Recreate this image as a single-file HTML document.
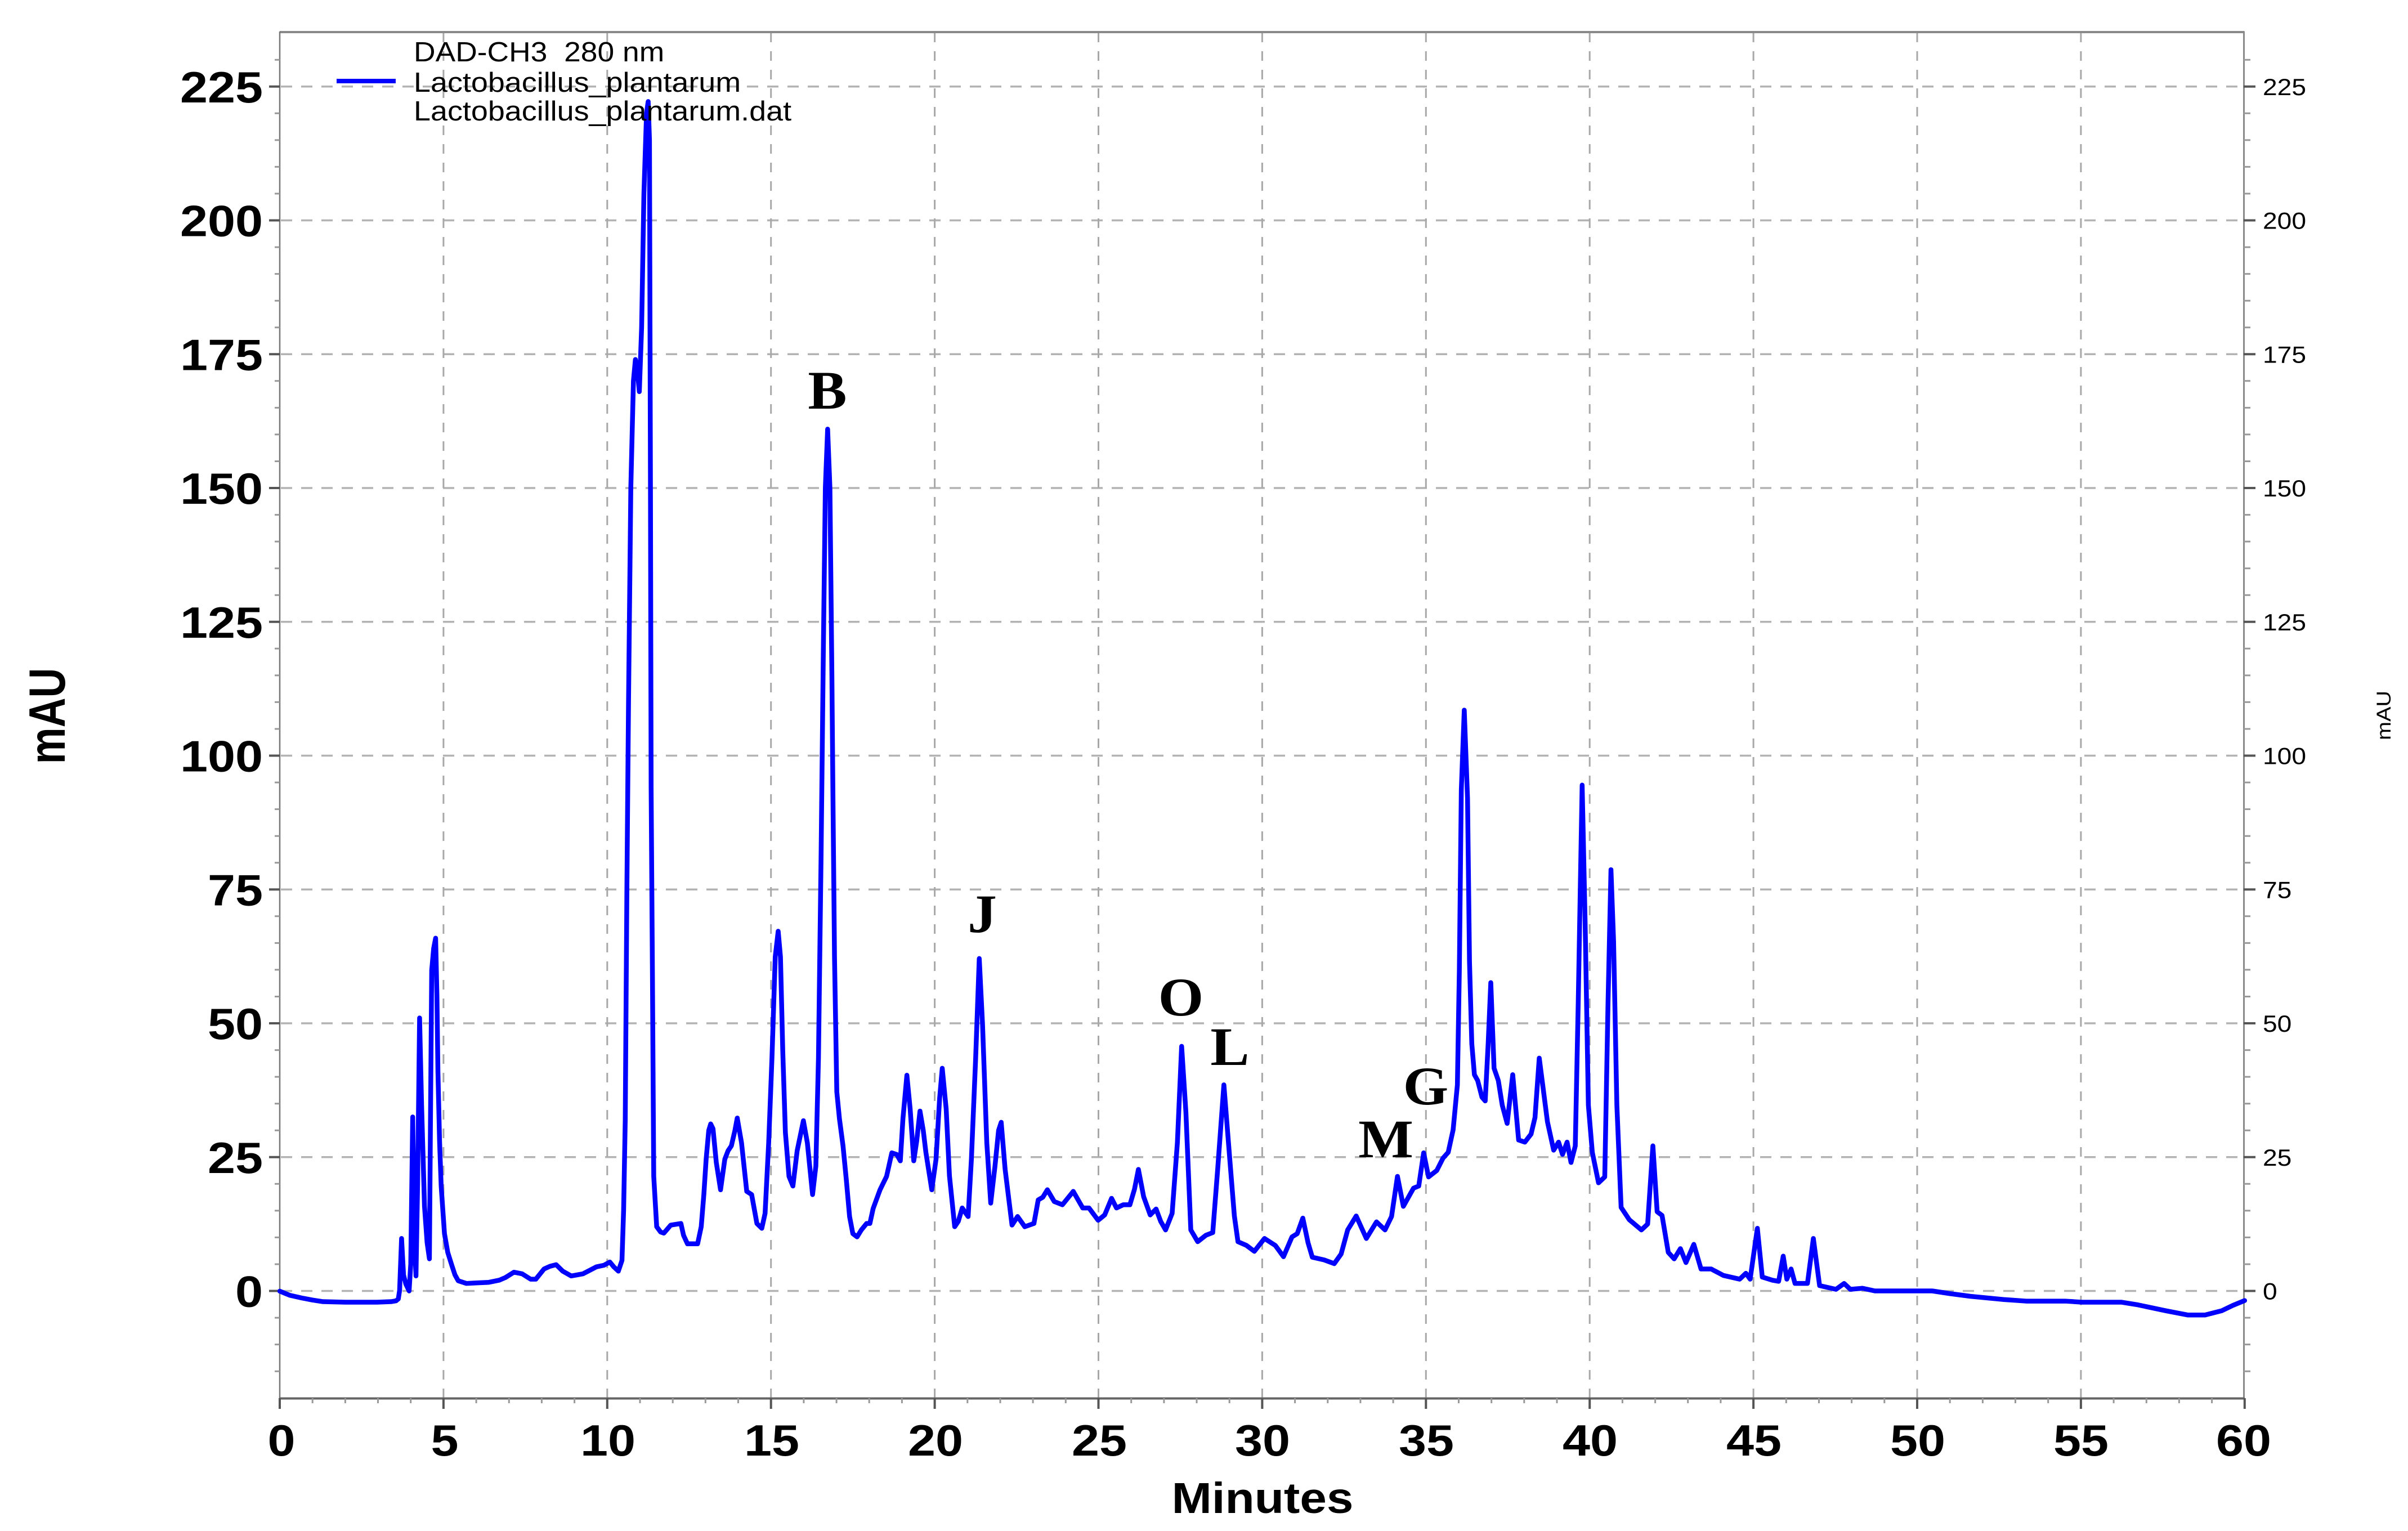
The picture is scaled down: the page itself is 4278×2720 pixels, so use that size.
<!DOCTYPE html>
<html>
<head>
<meta charset="utf-8">
<style>
html,body{margin:0;padding:0;background:#fff;}
svg{display:block;}
</style>
</head>
<body>
<svg xmlns="http://www.w3.org/2000/svg" width="4278" height="2720" viewBox="0 0 4278 2720">
<rect x="0" y="0" width="4278" height="2720" fill="#fff"/>

<!-- horizontal grid -->
<path d="M499,2293.5H3986 M499,2055.75H3986 M499,1818H3986 M499,1580.25H3986 M499,1342.5H3986 M499,1104.75H3986 M499,867H3986 M499,629.25H3986 M499,391.5H3986 M499,153.75H3986" stroke="#b3b3b3" stroke-width="3.5" stroke-dasharray="20 16" fill="none"/>
<!-- vertical grid -->
<path d="M787.9,58V2483 M1078.8,58V2483 M1369.7,58V2483 M1660.6,58V2483 M1951.5,58V2483 M2242.4,58V2483 M2533.3,58V2483 M2824.2,58V2483 M3115.1,58V2483 M3406,58V2483 M3696.9,58V2483" stroke="#a8a8a8" stroke-width="3" stroke-dasharray="17 16" fill="none"/>

<!-- frame -->
<path d="M497,57H3987.5" stroke="#8a8a8a" stroke-width="4" fill="none"/>
<path d="M497,56V2485" stroke="#777" stroke-width="2.5" fill="none"/>
<path d="M3986.5,56V2485" stroke="#8a8a8a" stroke-width="3" fill="none"/>
<path d="M496,2484.5H3988" stroke="#666" stroke-width="4" fill="none"/>

<!-- left axis ticks -->
<path d="M478,2293.5H497 M478,2055.75H497 M478,1818H497 M478,1580.25H497 M478,1342.5H497 M478,1104.75H497 M478,867H497 M478,629.25H497 M478,391.5H497 M478,153.75H497" stroke="#555" stroke-width="4" fill="none"/>
<path d="M488,106.2H497 M488,201.3H497 M488,248.9H497 M488,296.4H497 M488,344H497 M488,439.1H497 M488,486.6H497 M488,534.2H497 M488,581.7H497 M488,676.8H497 M488,724.4H497 M488,771.9H497 M488,819.5H497 M488,914.6H497 M488,962.1H497 M488,1009.7H497 M488,1057.2H497 M488,1152.3H497 M488,1199.9H497 M488,1247.4H497 M488,1295H497 M488,1390.1H497 M488,1437.6H497 M488,1485.2H497 M488,1532.7H497 M488,1627.8H497 M488,1675.4H497 M488,1722.9H497 M488,1770.5H497 M488,1865.6H497 M488,1913.1H497 M488,1960.7H497 M488,2008.2H497 M488,2103.3H497 M488,2150.9H497 M488,2198.4H497 M488,2246H497 M488,2341.1H497 M488,2388.6H497 M488,2436.2H497" stroke="#999" stroke-width="3" fill="none"/>

<!-- right axis ticks -->
<path d="M3986,2293.5H4007 M3986,2055.75H4007 M3986,1818H4007 M3986,1580.25H4007 M3986,1342.5H4007 M3986,1104.75H4007 M3986,867H4007 M3986,629.25H4007 M3986,391.5H4007 M3986,153.75H4007" stroke="#555" stroke-width="4" fill="none"/>
<path d="M3986,106.2H3998 M3986,201.3H3998 M3986,248.9H3998 M3986,296.4H3998 M3986,344H3998 M3986,439.1H3998 M3986,486.6H3998 M3986,534.2H3998 M3986,581.7H3998 M3986,676.8H3998 M3986,724.4H3998 M3986,771.9H3998 M3986,819.5H3998 M3986,914.6H3998 M3986,962.1H3998 M3986,1009.7H3998 M3986,1057.2H3998 M3986,1152.3H3998 M3986,1199.9H3998 M3986,1247.4H3998 M3986,1295H3998 M3986,1390.1H3998 M3986,1437.6H3998 M3986,1485.2H3998 M3986,1532.7H3998 M3986,1627.8H3998 M3986,1675.4H3998 M3986,1722.9H3998 M3986,1770.5H3998 M3986,1865.6H3998 M3986,1913.1H3998 M3986,1960.7H3998 M3986,2008.2H3998 M3986,2103.3H3998 M3986,2150.9H3998 M3986,2198.4H3998 M3986,2246H3998 M3986,2341.1H3998 M3986,2388.6H3998 M3986,2436.2H3998" stroke="#999" stroke-width="3" fill="none"/>

<!-- bottom axis ticks -->
<path d="M497,2484V2503 M787.9,2484V2503 M1078.8,2484V2503 M1369.7,2484V2503 M1660.6,2484V2503 M1951.5,2484V2503 M2242.4,2484V2503 M2533.3,2484V2503 M2824.2,2484V2503 M3115.1,2484V2503 M3406,2484V2503 M3696.9,2484V2503 M3987.8,2484V2503" stroke="#555" stroke-width="4" fill="none"/>
<path d="M555.2,2484V2493 M613.4,2484V2493 M671.5,2484V2493 M729.7,2484V2493 M846.1,2484V2493 M904.3,2484V2493 M962.4,2484V2493 M1020.6,2484V2493 M1137,2484V2493 M1195.2,2484V2493 M1253.3,2484V2493 M1311.5,2484V2493 M1427.9,2484V2493 M1486.1,2484V2493 M1544.2,2484V2493 M1602.4,2484V2493 M1718.8,2484V2493 M1777,2484V2493 M1835.1,2484V2493 M1893.3,2484V2493 M2009.7,2484V2493 M2067.9,2484V2493 M2126,2484V2493 M2184.2,2484V2493 M2300.6,2484V2493 M2358.8,2484V2493 M2416.9,2484V2493 M2475.1,2484V2493 M2591.5,2484V2493 M2649.7,2484V2493 M2707.8,2484V2493 M2766,2484V2493 M2882.4,2484V2493 M2940.6,2484V2493 M2998.7,2484V2493 M3056.9,2484V2493 M3173.3,2484V2493 M3231.5,2484V2493 M3289.6,2484V2493 M3347.8,2484V2493 M3464.2,2484V2493 M3522.4,2484V2493 M3580.5,2484V2493 M3638.7,2484V2493 M3755.1,2484V2493 M3813.3,2484V2493 M3871.4,2484V2493 M3929.6,2484V2493" stroke="#999" stroke-width="3" fill="none"/>

<!-- trace -->
<g transform="translate(497,2293.5) scale(58.18,-9.51)">
<polyline fill="none" stroke="#0000ff" stroke-width="8.5" stroke-linejoin="round" stroke-linecap="round" vector-effect="non-scaling-stroke" points="0,-0.04 0.3,-0.8 0.66,-1.3 1,-1.7 1.32,-2 2,-2.1 2.97,-2.1 3.4,-2 3.55,-1.85 3.62,-1.5 3.66,0.1 3.72,9.8 3.78,3 3.85,1.3 3.95,0 4,5 4.06,32.5 4.11,10 4.16,2.8 4.21,20 4.27,51 4.33,35 4.42,15.8 4.5,9 4.57,6 4.6,30 4.64,59.9 4.7,64 4.76,65.9 4.8,55 4.83,41 4.88,28 4.93,19.5 5.03,10.7 5.13,7.2 5.24,5.05 5.35,3 5.45,1.9 5.7,1.4 6,1.5 6.37,1.6 6.7,2 6.89,2.5 7.15,3.5 7.4,3.2 7.66,2.2 7.82,2.2 8.07,4.1 8.25,4.6 8.44,4.9 8.64,3.7 8.9,2.8 9.26,3.2 9.67,4.5 9.9,4.8 10.08,5.4 10.2,4.5 10.34,3.7 10.45,5.7 10.5,15 10.55,32 10.6,75 10.65,110 10.72,150 10.8,170 10.86,174 10.92,172 10.98,168 11.05,180 11.12,205 11.2,220 11.25,222.2 11.29,215 11.32,150 11.34,94 11.38,59.3 11.42,21.4 11.51,12 11.63,11 11.73,10.8 11.94,12.3 12.25,12.6 12.33,10.4 12.45,8.8 12.76,8.8 12.87,12 12.95,18 13.02,24.6 13.1,30 13.16,31.2 13.23,30.3 13.33,24 13.46,18.9 13.59,24.6 13.69,26.2 13.79,27.1 13.9,30 13.97,32.3 14.1,27.7 14.26,18.6 14.41,18 14.57,12.6 14.72,11.7 14.82,14.5 14.93,27.7 15.03,43.5 15.13,62.4 15.22,67.2 15.29,62.4 15.36,44.8 15.44,29.6 15.55,21.4 15.67,19.6 15.8,26.2 15.99,31.8 16.11,27.7 16.27,18 16.37,23.3 16.45,43.5 16.53,81.3 16.6,120 16.66,150 16.73,161 16.8,150 16.86,115 16.89,94 16.94,62.4 17.01,37.2 17.09,32.2 17.2,27.1 17.3,20.8 17.4,13.9 17.5,10.7 17.63,10.1 17.76,11.4 17.92,12.6 18.02,12.6 18.12,15.4 18.33,18.9 18.53,21.4 18.69,25.8 18.84,25.5 18.95,24.3 19.03,32.2 19.15,40.3 19.25,34 19.36,24.3 19.45,28 19.55,33.6 19.65,30 19.73,25.9 19.91,18.9 20.04,24.6 20.15,36 20.23,41.6 20.35,34 20.45,21.5 20.61,12 20.72,13 20.84,15.5 20.95,14.5 21.02,13.9 21.12,24.6 21.25,43.5 21.36,62.1 21.46,49.8 21.59,27.7 21.71,16.4 21.84,23.3 21.95,30 22.03,31.5 22.15,22.7 22.36,12.3 22.53,13.9 22.75,12 23.03,12.6 23.16,17 23.3,17.5 23.44,18.9 23.65,16.7 23.9,16.1 24.23,18.6 24.52,15.5 24.71,15.5 24.99,13.2 25.19,14.2 25.4,17.3 25.55,15.5 25.76,16.1 25.96,16.1 26.1,19 26.22,22.7 26.38,17.6 26.58,14.2 26.76,15.3 26.9,13 27.05,11.4 27.25,14.5 27.41,27.7 27.54,45.7 27.67,33.4 27.82,11.4 28.03,9.2 28.28,10.4 28.49,10.9 28.64,22.7 28.83,38.5 29.01,24.6 29.15,14 29.26,9.2 29.52,8.5 29.76,7.4 30.07,9.8 30.4,8.5 30.65,6.4 30.91,10.1 31.07,10.7 31.24,13.6 31.4,9 31.53,6.3 31.89,5.8 32.2,5.1 32.41,6.9 32.61,11.4 32.87,14 33.18,9.8 33.49,12.9 33.75,11.4 33.95,13.9 34.13,21.4 34.31,15.8 34.62,19.2 34.78,19.6 34.93,25.8 35.08,21.3 35.33,22.5 35.52,24.8 35.68,25.9 35.83,30.1 35.96,38.5 36.02,59.9 36.08,93.6 36.17,108.5 36.27,92 36.33,61.5 36.4,46.2 36.48,40.4 36.58,39.3 36.71,36.2 36.81,35.5 36.9,46.2 36.98,57.6 37.08,41.6 37.21,39.3 37.33,34.7 37.48,31.3 37.65,40.4 37.83,28.2 38.02,27.8 38.21,29.3 38.33,32.4 38.46,43.5 38.58,37.8 38.71,31.6 38.9,26.3 39.05,27.8 39.17,25.5 39.31,27.8 39.43,24 39.56,27.1 39.65,53.8 39.77,94.5 39.86,69.1 39.96,34.7 40.08,25.9 40.27,20.2 40.46,21.3 40.56,53.8 40.65,78.7 40.73,65.3 40.83,34.7 40.96,15.6 41.21,13.3 41.58,11.4 41.77,12.5 41.93,27.1 42.06,14.8 42.21,14.1 42.4,7.2 42.58,6 42.77,7.9 42.94,5.3 43.18,8.7 43.4,4.1 43.71,4.1 44.08,2.9 44.58,2.2 44.77,3.3 44.9,2.2 45.12,11.7 45.27,2.6 45.58,2 45.77,1.8 45.91,6.5 46.02,2.2 46.15,4.1 46.27,1.4 46.65,1.4 46.83,9.8 47.02,1 47.52,0.3 47.77,1.4 47.96,0.3 48.33,0.5 48.71,0 49.96,0 50.46,0 51,-0.5 51.62,-1 52.64,-1.6 53.33,-1.9 54.52,-1.9 55.03,-2.1 56.23,-2.1 56.74,-2.6 57.59,-3.7 58.27,-4.5 58.79,-4.5 59.3,-3.7 59.64,-2.7 60,-1.8"/>
</g>

<!-- legend -->
<path d="M598,144H703" stroke="#0000ff" stroke-width="8" fill="none"/>
<g font-family="'Liberation Sans', Arial, sans-serif" font-size="49" fill="#000">
<text transform="translate(735,109) scale(1.09,1)">DAD-CH3&#160; 280 nm</text>
<text transform="translate(735,163) scale(1.10,1)">Lactobacillus_plantarum</text>
<text transform="translate(735,214) scale(1.10,1)">Lactobacillus_plantarum.dat</text>
</g>

<!-- left tick labels -->
<g font-family="'Liberation Sans', Arial, sans-serif" font-size="78" font-weight="bold" fill="#000" text-anchor="end">
<text transform="translate(467,2321.5) scale(1.13,1)">0</text>
<text transform="translate(467,2083.75) scale(1.13,1)">25</text>
<text transform="translate(467,1846) scale(1.13,1)">50</text>
<text transform="translate(467,1608.25) scale(1.13,1)">75</text>
<text transform="translate(467,1370.5) scale(1.13,1)">100</text>
<text transform="translate(467,1132.75) scale(1.13,1)">125</text>
<text transform="translate(467,895) scale(1.13,1)">150</text>
<text transform="translate(467,657.25) scale(1.13,1)">175</text>
<text transform="translate(467,419.5) scale(1.13,1)">200</text>
<text transform="translate(467,181.75) scale(1.13,1)">225</text>
</g>

<!-- right tick labels -->
<g font-family="'Liberation Sans', Arial, sans-serif" font-size="42" fill="#000">
<text transform="translate(4020,2308.5) scale(1.1,1)">0</text>
<text transform="translate(4020,2070.75) scale(1.1,1)">25</text>
<text transform="translate(4020,1833) scale(1.1,1)">50</text>
<text transform="translate(4020,1595.25) scale(1.1,1)">75</text>
<text transform="translate(4020,1357.5) scale(1.1,1)">100</text>
<text transform="translate(4020,1119.75) scale(1.1,1)">125</text>
<text transform="translate(4020,882) scale(1.1,1)">150</text>
<text transform="translate(4020,644.25) scale(1.1,1)">175</text>
<text transform="translate(4020,406.5) scale(1.1,1)">200</text>
<text transform="translate(4020,168.75) scale(1.1,1)">225</text>
</g>

<!-- x tick labels -->
<g font-family="'Liberation Sans', Arial, sans-serif" font-size="78" font-weight="bold" fill="#000" text-anchor="middle">
<text transform="translate(500,2586) scale(1.13,1)">0</text>
<text transform="translate(790,2586) scale(1.13,1)">5</text>
<text transform="translate(1080,2586) scale(1.13,1)">10</text>
<text transform="translate(1371,2586) scale(1.13,1)">15</text>
<text transform="translate(1662,2586) scale(1.13,1)">20</text>
<text transform="translate(1953,2586) scale(1.13,1)">25</text>
<text transform="translate(2243,2586) scale(1.13,1)">30</text>
<text transform="translate(2534,2586) scale(1.13,1)">35</text>
<text transform="translate(2825,2586) scale(1.13,1)">40</text>
<text transform="translate(3116,2586) scale(1.13,1)">45</text>
<text transform="translate(3407,2586) scale(1.13,1)">50</text>
<text transform="translate(3697,2586) scale(1.13,1)">55</text>
<text transform="translate(3986,2586) scale(1.13,1)">60</text>
</g>

<!-- axis titles -->
<text transform="translate(2243,2688) scale(1.11,1)" font-family="'Liberation Sans', Arial, sans-serif" font-size="77" font-weight="bold" text-anchor="middle" fill="#000">Minutes</text>
<text transform="translate(115,1272) rotate(-90) scale(0.915,1.14)" font-family="'Liberation Sans', Arial, sans-serif" font-size="80" font-weight="bold" text-anchor="middle" fill="#000">mAU</text>
<text transform="translate(4247,1271) rotate(-90) scale(1.1,0.97)" font-family="'Liberation Sans', Arial, sans-serif" font-size="36" text-anchor="middle" fill="#000">mAU</text>

<!-- peak labels -->
<g font-family="'Liberation Serif', 'Times New Roman', serif" font-size="96" font-weight="bold" fill="#000" text-anchor="middle">
<text transform="translate(1470,726) scale(1.08,1)">B</text>
<text transform="translate(1745,1656) scale(1.08,1)">J</text>
<text transform="translate(2098,1804) scale(1.08,1)">O</text>
<text transform="translate(2185,1892) scale(1.08,1)">L</text>
<text transform="translate(2462,2056) scale(1.08,1)">M</text>
<text transform="translate(2533,1962) scale(1.08,1)">G</text>
</g>
</svg>
</body>
</html>
